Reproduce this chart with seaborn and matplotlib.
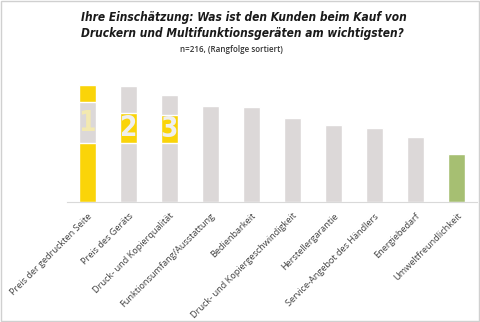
import matplotlib
matplotlib.use("Agg")
import matplotlib.pyplot as plt
import seaborn as sns
import pandas as pd
from matplotlib.patches import Rectangle
from matplotlib import font_manager

categories = [
    "Preis der gedruckten Seite",
    "Preis des Geräts",
    "Druck- und Kopierqualität",
    "Funktionsumfang/Ausstattung",
    "Bedienbarkeit",
    "Druck- und Kopiergeschwindigkeit",
    "Herstellergarantie",
    "Service-Angebot des Händlers",
    "Energiebedarf",
    "Umweltfreundlichkeit",
]
values = [117, 116, 106.7, 96, 95.3, 83.7, 76.7, 73.7, 65, 48]
ranks = ["1", "2", "3"]

YELLOW = "#FAD409"
GREY = "#DCD8D8"
GREEN = "#A6BF72"
colors = [YELLOW] + [GREY] * 8 + [GREEN]

sns.set_theme(style="white")
plt.rcParams["font.family"] = ["Open Sans", "DejaVu Sans"]

def find_face(weight, style):
    for f in font_manager.fontManager.ttflist:
        if f.name == "DejaVu Sans" and f.stretch == "condensed" and f.weight == weight and f.style == style:
            return f.fname
    return None

cond_path = find_face(700, "oblique")
cond_bold_path = find_face(700, "normal")

df = pd.DataFrame({"cat": categories, "val": values})

fig = plt.figure(figsize=(4.8, 3.22), dpi=100)
ax = fig.add_axes([0.139, 0.373, 0.855, 0.404])
sns.barplot(data=df, x="cat", y="val", hue="cat", palette=colors,
            legend=False, width=0.41, ax=ax, saturation=1)
ax.set_ylim(0, 130)
ax.set_xlim(-0.5, len(categories) - 0.5)

# rank badges
badge_bottom = 58.7
badge_tops = [100.3, 89.3, 87.0]
badge_colors = [GREY, YELLOW, YELLOW]
digit_colors = ["#F3E9B0", "#EFEFEF", "#EFEFEF"]
for i, r in enumerate(ranks):
    ax.bar(i, badge_tops[i] - badge_bottom, bottom=badge_bottom, width=0.41,
           color=badge_colors[i], zorder=3)
    kw = dict(fname=cond_bold_path) if cond_bold_path else dict(family="DejaVu Sans", weight="bold")
    fp = font_manager.FontProperties(size=20, **kw)
    ax.text(i, (badge_tops[i] + badge_bottom) / 2 - 0.5, r, ha="center", va="center",
            fontproperties=fp, color=digit_colors[i], zorder=4)

ax.set_xlabel("")
ax.set_ylabel("")
ax.set_yticks([])
for s in ["left", "right", "top"]:
    ax.spines[s].set_visible(False)
ax.spines["bottom"].set_color("#D9D9D9")
ax.spines["bottom"].set_linewidth(0.8)
ax.tick_params(axis="x", length=0, pad=7)
ax.set_xticks(range(len(categories)))
ax.set_xticklabels(categories, rotation=45, ha="right", rotation_mode="anchor",
                   fontsize=6.55, color="#404040")

if cond_path:
    tfp = font_manager.FontProperties(fname=cond_path, size=8.6)
else:
    tfp = font_manager.FontProperties(family="DejaVu Sans", weight="bold", style="italic", size=7.6)
fig.text(0.169, 0.965, "Ihre Einschätzung: Was ist den Kunden beim Kauf von\nDruckern und Multifunktionsgeräten am wichtigsten?",
         ha="left", va="top", fontproperties=tfp, color="#1a1a1a",
         linespacing=1.25)
fig.text(0.483, 0.845, "n=216, (Rangfolge sortiert)", ha="center", va="center",
         fontsize=5.8, fontweight="semibold", color="#333333")

fig.patches.append(Rectangle((0.002, 0.003), 0.995, 0.994, transform=fig.transFigure,
                             fill=False, edgecolor="#D0D0D0", linewidth=1.0))

fig.savefig("out.png", dpi=100)
